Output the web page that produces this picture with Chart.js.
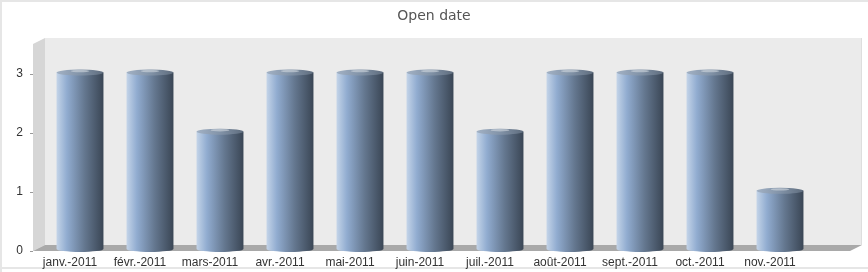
<!DOCTYPE html>
<html>
<head>
<meta charset="utf-8">
<script src="https://cdn.jsdelivr.net/npm/chart.js@4/dist/chart.umd.min.js"></script>
<style>
  html, body { margin: 0; padding: 0; background: #fff; }
  #wrap { width: 868px; height: 272px; }
</style>
</head>
<body>
<div id="wrap"><canvas id="chart" width="868" height="272"></canvas></div>
<script>
const chartTitle = 'Open date';
const months = ['janv.-2011', 'févr.-2011', 'mars-2011', 'avr.-2011', 'mai-2011', 'juin-2011',
                'juil.-2011', 'août-2011', 'sept.-2011', 'oct.-2011', 'nov.-2011'];
const openCounts = [3, 3, 2, 3, 3, 3, 2, 3, 3, 3, 1];
const yTicks = [0, 1, 2, 3];
const yMax = 3.5;

// 3D look
const DEPTH_X = 12, DEPTH_Y = 6, WALL_EXTRA = 47;
const FONT = "'Liberation Sans', Arial, sans-serif";

const backdrop = {
    id: 'backdrop',
    beforeDraw(chart) {
        const ctx = chart.ctx, a = chart.chartArea;
        const W = chart.width, H = chart.height;
        ctx.save();
        ctx.fillStyle = '#fff';
        ctx.fillRect(0, 0, W, H);
        // frame
        ctx.fillStyle = '#e6e6e6';
        ctx.fillRect(0, 0, W, 2);
        ctx.fillRect(0, 0, 2, H);
        ctx.fillRect(0, H - 5, W, 2);

        // title, centred on the whole canvas
        ctx.fillStyle = '#555';
        ctx.font = "14px 'DejaVu Sans', sans-serif";
        ctx.textAlign = 'center';
        ctx.textBaseline = 'middle';
        ctx.fillText(chartTitle, W / 2, 16);

        const bl = a.left, br = a.right + WALL_EXTRA;
        const bt = a.top - DEPTH_Y, bb = a.bottom - DEPTH_Y;
        const fl = bl - DEPTH_X, fr = br - DEPTH_X;

        // back wall
        ctx.fillStyle = '#ebebeb';
        ctx.fillRect(bl, bt, br - bl, bb - bt);
        ctx.strokeStyle = '#dedede';
        ctx.lineWidth = 1;
        ctx.beginPath();
        ctx.moveTo(br - 0.5, bt);
        ctx.lineTo(br - 0.5, bb);
        ctx.stroke();

        // side wall
        ctx.fillStyle = '#d6d6d6';
        ctx.beginPath();
        ctx.moveTo(fl, a.top);
        ctx.lineTo(bl, bt);
        ctx.lineTo(bl, bb);
        ctx.lineTo(fl, a.bottom);
        ctx.closePath();
        ctx.fill();

        // floor
        ctx.fillStyle = '#a9a9a9';
        ctx.beginPath();
        ctx.moveTo(fl, a.bottom);
        ctx.lineTo(bl, bb);
        ctx.lineTo(br, bb);
        ctx.lineTo(fr, a.bottom);
        ctx.closePath();
        ctx.fill();

        // y tick marks on the front edge
        const ys = chart.scales.y;
        ctx.strokeStyle = '#999';
        ctx.beginPath();
        yTicks.forEach(v => {
            const py = Math.round(ys.getPixelForValue(v)) + 0.5;
            ctx.moveTo(fl - 3, py);
            ctx.lineTo(fl, py);
        });
        ctx.stroke();
        ctx.restore();
    }
};

const cylinders = {
    id: 'cylinders',
    beforeDatasetDraw(chart, args) {
        const ctx = chart.ctx;
        ctx.save();
        args.meta.data.forEach(bar => {
            const { x, y, base, width } = bar.getProps(['x', 'y', 'base', 'width'], true);
            const l = x - width / 2, r = x + width / 2, rx = width / 2, ry = 3;
            const top = y - 1, bot = base - 2;

            const g = ctx.createLinearGradient(l, 0, r, 0);
            g.addColorStop(0, '#c4d4e8');
            g.addColorStop(0.22, '#91acd0');
            g.addColorStop(0.6, '#64778f');
            g.addColorStop(1, '#3a4655');
            ctx.fillStyle = g;
            ctx.beginPath();
            ctx.moveTo(l, top);
            ctx.lineTo(l, bot);
            ctx.ellipse(x, bot, rx, ry, 0, Math.PI, 0, true);
            ctx.lineTo(r, top);
            ctx.closePath();
            ctx.fill();

            const tg = ctx.createLinearGradient(l, 0, r, 0);
            tg.addColorStop(0, '#a2b1c4');
            tg.addColorStop(0.5, '#8293a8');
            tg.addColorStop(1, '#5f6d7e');
            ctx.fillStyle = tg;
            ctx.beginPath();
            ctx.ellipse(x, top, rx, ry, 0, 0, Math.PI * 2);
            ctx.fill();
            ctx.fillStyle = 'rgba(210,216,224,0.6)';
            ctx.beginPath();
            ctx.ellipse(x, top - 1.5, rx * 0.4, 1.2, 0, 0, Math.PI * 2);
            ctx.fill();
        });
        ctx.restore();
        return false;
    }
};

new Chart(document.getElementById('chart'), {
    type: 'bar',
    data: {
        labels: months,
        datasets: [{
            label: chartTitle,
            data: openCounts,
            backgroundColor: '#8fa9c8',
            barPercentage: 0.67,
            categoryPercentage: 1
        }]
    },
    options: {
        responsive: false,
        animation: false,
        devicePixelRatio: 1,
        layout: { padding: { top: 44, left: 0, right: 53, bottom: 0 } },
        plugins: {
            legend: { display: false },
            tooltip: { enabled: false },
            title: { display: false }
        },
        scales: {
            x: {
                grid: { display: false, drawTicks: false },
                border: { display: false },
                ticks: {
                    color: '#333', font: { family: FONT, size: 12 },
                    padding: 4, labelOffset: -10, autoSkip: false, maxRotation: 0
                },
                afterFit(s) { s.height = 21; s.paddingLeft = 0; s.paddingRight = 0; }
            },
            y: {
                min: 0, max: yMax,
                grid: { display: false, drawTicks: false },
                border: { display: false },
                ticks: { color: '#333', font: { family: FONT, size: 12 }, padding: 22 },
                afterBuildTicks(s) { s.ticks = yTicks.map(v => ({ value: v })); },
                afterFit(s) { s.width = 45; s.paddingTop = 0; s.paddingBottom = 0; }
            }
        }
    },
    plugins: [backdrop, cylinders]
});
</script>
</body>
</html>
